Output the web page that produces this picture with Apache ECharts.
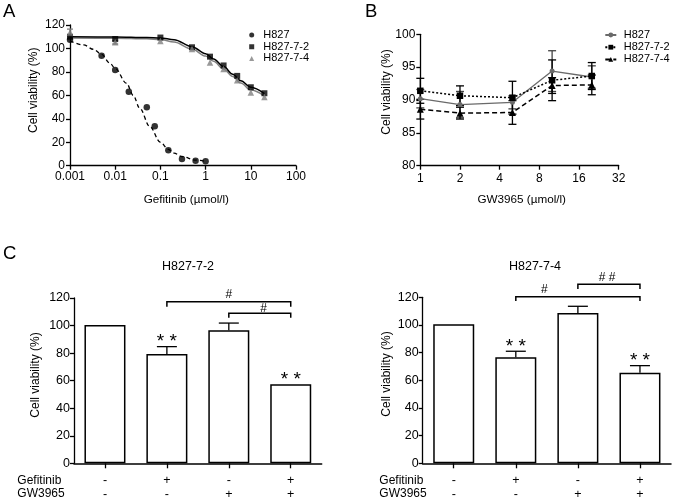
<!DOCTYPE html>
<html><head><meta charset="utf-8">
<script src="https://cdn.jsdelivr.net/npm/echarts@6/dist/echarts.min.js"></script>
<style>html,body{margin:0;padding:0;background:#fff}#c{width:677px;height:504px}</style>
</head><body><div id="c"></div>
<script>
const FONT = '"Liberation Sans", Arial, sans-serif';

// ---------- Panel A data ----------
const aTickLabels = ['0.001', '0.01', '0.1', '1', '10', '100'];
const aConcH827 = [0.001, 0.005, 0.01, 0.02, 0.05, 0.075, 0.15, 0.3, 0.6, 1];
const aH827 = [107.5, 93.8, 81.6, 63.1, 49.8, 33.6, 13.2, 5.7, 4.3, 3.7];
const aConcSub = [0.001, 0.01, 0.1, 0.5, 1.25, 2.5, 5, 10, 20];
const aH827_7_2 = [110, 108, 109.3, 101, 93, 85.5, 76.6, 66.9, 61.8];
const aH827_7_4 = [113.5, 105.3, 106.3, 99.5, 88, 82.5, 72.8, 62.5, 58.5];
const aErr7_4 = [3, 1.5, 0, 0, 0, 0, 0, 0, 0];
// fitted curves
const aFitH827X = [0.001, 0.002, 0.0033, 0.005, 0.0076, 0.01, 0.0178, 0.025, 0.035, 0.058, 0.1, 0.15, 0.2, 0.3, 0.6, 1];
const aFitH827Y = [106.5, 103, 99.3, 95, 87.5, 83, 70.3, 60, 49, 33.5, 20, 14, 10.8, 7.8, 4.8, 3.6];
const aFitSubX = [0.001, 0.01, 0.05, 0.1, 0.2, 0.5, 1, 1.5, 2.5, 4, 6, 10, 20];
const aFit7_2Y = [110, 109.8, 109.3, 109, 107.5, 101.5, 95.5, 91, 84.5, 78, 72.5, 67, 61.5];
const aFit7_4Y = [109, 108.7, 108.2, 107.6, 105.5, 99.5, 93.5, 89, 82.5, 76, 70.5, 64.5, 59.5];

// ---------- Panel B data ----------
const bConc = [1, 2, 5, 10, 20];
const bH827 = [90.2, 89.3, 89.65, 94.4, 93.5];
const bErrH827 = [1.4, 2.0, 1.0, 3.1, 1.7];
const bH827_7_2 = [91.4, 90.65, 90.35, 93.0, 93.65];
const bErr7_2 = [1.9, 1.5, 2.5, 3.1, 2.05];
const bH827_7_4 = [88.6, 88.0, 88.1, 92.2, 92.3];
const bErr7_4 = [1.5, 0.9, 1.8, 1.2, 1.5];

// ---------- Panel C data ----------
const cCats = ['control', 'gefitinib', 'GW3965', 'gefitinib+GW3965'];
const cGefitinibRow = ['-', '+', '-', '+'];
const cGW3965Row = ['-', '-', '+', '+'];
const cLeftVals = [100.4, 79.3, 96.5, 57.3];
const cLeftErr = [0, 5.4, 5.3, 0];
const cRightVals = [100.5, 76.6, 108.7, 65.5];
const cRightErr = [0, 4.4, 4.8, 5.1];
const cLeftStars = [[1, 91.2], [3, 64.1]];
const cRightStars = [[1, 87.2], [3, 77.1]];
const cLeftBrackets = [[1, 3, 117.3, 3.6], [2, 3, 108.9, 3.2]];
const cRightBrackets = [[1, 3, 120.4, 3.1], [2, 3, 129.4, 3.4]];
const cLeftHash = [[1, 3, 0.5, 122.2], [2, 3, 0.56, 112.5]];
const cLeftHashText = ['#', '#'];
const cRightHash = [[1, 3, 0.23, 125.3], [2, 3, 0.47, 134.2]];
const cRightHashText = ['#', '# #'];

const zip = (xs, ys) => xs.map((x, i) => [x, ys[i]]);
const zip3 = (xs, ys, es) => xs.map((x, i) => [x, ys[i], es[i]]);

function errBars(cap, color, both) {
  return function (params, api) {
    const x = api.value(0), y = api.value(1), e = api.value(2);
    if (!e) return { type: 'group', children: [] };
    const top = api.coord([x, y + e]);
    const bot = api.coord([x, both ? y - e : y]);
    const st = { stroke: color, lineWidth: 1.3 };
    const ch = [
      { type: 'line', shape: { x1: top[0], y1: top[1], x2: bot[0], y2: bot[1] }, style: st },
      { type: 'line', shape: { x1: top[0] - cap, y1: top[1], x2: top[0] + cap, y2: top[1] }, style: st }
    ];
    if (both) ch.push({ type: 'line', shape: { x1: bot[0] - cap, y1: bot[1], x2: bot[0] + cap, y2: bot[1] }, style: st });
    return { type: 'group', children: ch };
  };
}
function bracketRender(params, api) {
  const a = api.value(0), b = api.value(1), y = api.value(2), d = api.value(3);
  const p1 = api.coord([a, y - d]), p2 = api.coord([a, y]), p3 = api.coord([b, y]), p4 = api.coord([b, y - d]);
  return { type: 'polyline', shape: { points: [p1, p2, p3, p4] }, style: { stroke: '#000', lineWidth: 1.5, fill: null } };
}
function hashRender(texts) {
  return function (params, api) {
    const a = api.value(0), b = api.value(1), f = api.value(2), y = api.value(3);
    const pa = api.coord([a, y]), pb = api.coord([b, y]);
    return { type: 'text', x: pa[0] + f * (pb[0] - pa[0]), y: pa[1],
      style: { text: texts[params.dataIndex], fill: '#000', fontSize: 12, fontFamily: FONT, align: 'center', verticalAlign: 'middle' } };
  };
}
function starRender(params, api) {
  const p = api.coord([api.value(0), api.value(1)]);
  return { type: 'text', x: p[0], y: p[1] + 4.5,
    style: { text: '* *', fill: '#000', fontSize: 19, fontFamily: FONT, align: 'center', verticalAlign: 'middle' } };
}

const line = { color: '#000', width: 1.3 };
function valAxis(grid, min, max, interval, margin, fs) {
  return { type: 'value', gridIndex: grid, min: min, max: max, interval: interval,
    axisLine: { show: true, onZero: false, lineStyle: line },
    axisTick: { show: true, inside: false, length: 4, lineStyle: line },
    axisLabel: { color: '#000', fontFamily: FONT, fontSize: fs, margin: margin },
    splitLine: { show: false } };
}
function catAxis(grid) {
  return { type: 'category', gridIndex: grid, data: cCats, boundaryGap: true,
    axisLine: { show: true, onZero: false, lineStyle: { color: '#000', width: 1.5 } },
    axisTick: { show: true, alignWithLabel: true, length: 5, lineStyle: { color: '#000', width: 1.3 } },
    axisLabel: { color: '#000', fontFamily: FONT, fontSize: 12.5, lineHeight: 13.5, margin: 10.5,
      formatter: (v, i) => cGefitinibRow[i] + '\n' + cGW3965Row[i] },
    splitLine: { show: false } };
}

const option = {
  animation: false,
  backgroundColor: '#fff',
  grid: [
    { left: 70, top: 25, width: 226, height: 140.7, outerBoundsMode: 'none' },
    { left: 420.3, top: 34.3, width: 198.4, height: 131.4, outerBoundsMode: 'none' },
    { left: 74, top: 298, width: 247.7, height: 165.3, outerBoundsMode: 'none' },
    { left: 422.7, top: 297.3, width: 248.3, height: 166, outerBoundsMode: 'none' }
  ],
  xAxis: [
    { type: 'log', logBase: 10, gridIndex: 0, min: 0.001, max: 100,
      axisLine: { show: true, onZero: false, lineStyle: line },
      axisTick: { show: true, length: 4, lineStyle: line },
      minorTick: { show: false },
      axisLabel: { color: '#000', fontFamily: FONT, fontSize: 12, margin: 5,
        formatter: v => aTickLabels[Math.round(Math.log10(v)) + 3] },
      splitLine: { show: false } },
    { type: 'log', logBase: 2, gridIndex: 1, min: 1, max: 32,
      axisLine: { show: true, onZero: false, lineStyle: line },
      axisTick: { show: true, length: 4, lineStyle: line },
      axisLabel: { color: '#000', fontFamily: FONT, fontSize: 12, margin: 7,
        formatter: v => String(Math.round(v)) },
      splitLine: { show: false } },
    catAxis(2),
    catAxis(3)
  ],
  yAxis: [
    valAxis(0, 0, 120, 20, 5, 12),
    valAxis(1, 80, 100, 5, 5, 12),
    valAxis(2, 0, 120, 20, 4, 12.5),
    valAxis(3, 0, 120, 20, 4, 12.5)
  ],
  legend: [
    { data: ['H827', 'H827-7-2', 'H827-7-4'], orient: 'vertical', left: 249.2, top: 29.2,
      itemWidth: 5, itemHeight: 5, itemGap: 0, padding: 0, selectedMode: false,
      textStyle: { fontSize: 11, fontFamily: FONT, color: '#000', lineHeight: 11.7, padding: [0, 0, 0, 4] } },
    { data: ['B:H827', 'B:H827-7-2', 'B:H827-7-4'], orient: 'vertical', left: 604.3, top: 28.9,
      itemWidth: 11, itemHeight: 6, itemGap: 0, padding: 0, selectedMode: false,
      formatter: n => n.replace('B:', ''),
      textStyle: { fontSize: 11, fontFamily: FONT, color: '#000', lineHeight: 12.2, padding: [0, 0, 0, 2.4] } }
  ],
  series: [
    // Panel A fitted curves
    { name: 'fitA_H827', type: 'line', xAxisIndex: 0, yAxisIndex: 0, data: zip(aFitH827X, aFitH827Y),
      showSymbol: false, smooth: 0.35, smoothMonotone: 'x', z: 2,
      lineStyle: { color: '#000', width: 1.3, type: [4, 3] } },
    { name: 'fitA_7_4', type: 'line', xAxisIndex: 0, yAxisIndex: 0, data: zip(aFitSubX, aFit7_4Y),
      showSymbol: false, smooth: 0.35, smoothMonotone: 'x', z: 2,
      lineStyle: { color: '#808080', width: 1.5 } },
    { name: 'fitA_7_2', type: 'line', xAxisIndex: 0, yAxisIndex: 0, data: zip(aFitSubX, aFit7_2Y),
      showSymbol: false, smooth: 0.35, smoothMonotone: 'x', z: 2,
      lineStyle: { color: '#000', width: 1.5 } },
    { name: 'errA_7_4', type: 'custom', xAxisIndex: 0, yAxisIndex: 0, data: zip3(aConcSub, aH827_7_4, aErr7_4),
      renderItem: errBars(3, '#808080', true), encode: { x: 0, y: 1 }, z: 3 },
    { name: 'H827', type: 'scatter', xAxisIndex: 0, yAxisIndex: 0, data: zip(aConcH827, aH827),
      symbol: 'circle', symbolSize: 6.5, itemStyle: { color: '#000' }, z: 4 },
    { name: 'H827-7-2', type: 'scatter', xAxisIndex: 0, yAxisIndex: 0, data: zip(aConcSub, aH827_7_2),
      symbol: 'rect', symbolSize: 6, itemStyle: { color: '#000' }, z: 4 },
    { name: 'H827-7-4', type: 'scatter', xAxisIndex: 0, yAxisIndex: 0, data: zip(aConcSub, aH827_7_4),
      symbol: 'triangle', symbolSize: 6.5, itemStyle: { color: '#808080' }, z: 4 },

    // Panel B
    { name: 'B:H827', type: 'line', xAxisIndex: 1, yAxisIndex: 1, data: zip(bConc, bH827),
      symbol: 'circle', symbolSize: 5, itemStyle: { color: '#6a6a6a' },
      lineStyle: { color: '#6a6a6a', width: 1.3 }, z: 3 },
    { name: 'B:H827-7-2', type: 'line', xAxisIndex: 1, yAxisIndex: 1, data: zip(bConc, bH827_7_2),
      symbol: 'rect', symbolSize: 6.5, itemStyle: { color: '#000' },
      lineStyle: { color: '#000', width: 1.5, type: [2, 2] }, z: 3 },
    { name: 'B:H827-7-4', type: 'line', xAxisIndex: 1, yAxisIndex: 1, data: zip(bConc, bH827_7_4),
      symbol: 'triangle', symbolSize: 7, itemStyle: { color: '#000' },
      lineStyle: { color: '#000', width: 1.5, type: [5, 3] }, z: 3 },
    { name: 'errB_H827', type: 'custom', xAxisIndex: 1, yAxisIndex: 1, data: zip3(bConc, bH827, bErrH827),
      renderItem: errBars(4, '#444', true), encode: { x: 0, y: 1 }, z: 2 },
    { name: 'errB_7_2', type: 'custom', xAxisIndex: 1, yAxisIndex: 1, data: zip3(bConc, bH827_7_2, bErr7_2),
      renderItem: errBars(4, '#000', true), encode: { x: 0, y: 1 }, z: 2 },
    { name: 'errB_7_4', type: 'custom', xAxisIndex: 1, yAxisIndex: 1, data: zip3(bConc, bH827_7_4, bErr7_4),
      renderItem: errBars(4, '#000', true), encode: { x: 0, y: 1 }, z: 2 },

    // Panel C left
    { name: 'cLeft', type: 'bar', xAxisIndex: 2, yAxisIndex: 2, data: cLeftVals, barWidth: 41,
      itemStyle: { color: '#fff', borderColor: '#000', borderWidth: 1.5 }, z: 2 },
    { name: 'cLeftErr', type: 'custom', xAxisIndex: 2, yAxisIndex: 2,
      data: cLeftVals.map((v, i) => [i, v, cLeftErr[i]]), renderItem: errBars(10, '#000', false),
      encode: { x: 0, y: 1 }, z: 3 },
    { name: 'cLeftBr', type: 'custom', xAxisIndex: 2, yAxisIndex: 2, data: cLeftBrackets,
      renderItem: bracketRender, encode: { x: 0, y: 2 }, z: 3 },
    { name: 'cLeftHash', type: 'custom', xAxisIndex: 2, yAxisIndex: 2, data: cLeftHash,
      renderItem: hashRender(cLeftHashText), encode: { x: 0, y: 3 }, z: 3 },
    { name: 'cLeftStar', type: 'custom', xAxisIndex: 2, yAxisIndex: 2, data: cLeftStars,
      renderItem: starRender, encode: { x: 0, y: 1 }, z: 3 },

    // Panel C right
    { name: 'cRight', type: 'bar', xAxisIndex: 3, yAxisIndex: 3, data: cRightVals, barWidth: 41,
      itemStyle: { color: '#fff', borderColor: '#000', borderWidth: 1.5 }, z: 2 },
    { name: 'cRightErr', type: 'custom', xAxisIndex: 3, yAxisIndex: 3,
      data: cRightVals.map((v, i) => [i, v, cRightErr[i]]), renderItem: errBars(10, '#000', false),
      encode: { x: 0, y: 1 }, z: 3 },
    { name: 'cRightBr', type: 'custom', xAxisIndex: 3, yAxisIndex: 3, data: cRightBrackets,
      renderItem: bracketRender, encode: { x: 0, y: 2 }, z: 3 },
    { name: 'cRightHash', type: 'custom', xAxisIndex: 3, yAxisIndex: 3, data: cRightHash,
      renderItem: hashRender(cRightHashText), encode: { x: 0, y: 3 }, z: 3 },
    { name: 'cRightStar', type: 'custom', xAxisIndex: 3, yAxisIndex: 3, data: cRightStars,
      renderItem: starRender, encode: { x: 0, y: 1 }, z: 3 }
  ],
  graphic: [
    { type: 'text', x: 3, y: 11.7, style: { text: 'A', fontSize: 18.5, fontFamily: FONT, fill: '#000', align: 'left', verticalAlign: 'middle' } },
    { type: 'text', x: 365, y: 11.7, style: { text: 'B', fontSize: 18.5, fontFamily: FONT, fill: '#000', align: 'left', verticalAlign: 'middle' } },
    { type: 'text', x: 3, y: 253.7, style: { text: 'C', fontSize: 18.5, fontFamily: FONT, fill: '#000', align: 'left', verticalAlign: 'middle' } },
    { type: 'text', x: 34, y: 90.3, rotation: Math.PI / 2, style: { text: 'Cell viability (%)', fontSize: 12, fontFamily: FONT, fill: '#000', align: 'center', verticalAlign: 'middle' } },
    { type: 'text', x: 186.3, y: 200, style: { text: 'Gefitinib (\u00b5mol/l)', fontSize: 11.7, fontFamily: FONT, fill: '#000', align: 'center', verticalAlign: 'middle' } },
    { type: 'text', x: 386.7, y: 92, rotation: Math.PI / 2, style: { text: 'Cell viability (%)', fontSize: 12, fontFamily: FONT, fill: '#000', align: 'center', verticalAlign: 'middle' } },
    { type: 'text', x: 521.7, y: 200, style: { text: 'GW3965 (\u00b5mol/l)', fontSize: 11.7, fontFamily: FONT, fill: '#000', align: 'center', verticalAlign: 'middle' } },
    { type: 'text', x: 188, y: 267, style: { text: 'H827-7-2', fontSize: 12.5, fontFamily: FONT, fill: '#000', align: 'center', verticalAlign: 'middle' } },
    { type: 'text', x: 535, y: 267, style: { text: 'H827-7-4', fontSize: 12.5, fontFamily: FONT, fill: '#000', align: 'center', verticalAlign: 'middle' } },
    { type: 'text', x: 36, y: 375, rotation: Math.PI / 2, style: { text: 'Cell viability (%)', fontSize: 12, fontFamily: FONT, fill: '#000', align: 'center', verticalAlign: 'middle' } },
    { type: 'text', x: 386.5, y: 374, rotation: Math.PI / 2, style: { text: 'Cell viability (%)', fontSize: 12, fontFamily: FONT, fill: '#000', align: 'center', verticalAlign: 'middle' } },
    { type: 'text', x: 17.3, y: 480.7, style: { text: 'Gefitinib', fontSize: 12, fontFamily: FONT, fill: '#000', align: 'left', verticalAlign: 'middle' } },
    { type: 'text', x: 17.3, y: 494, style: { text: 'GW3965', fontSize: 12, fontFamily: FONT, fill: '#000', align: 'left', verticalAlign: 'middle' } },
    { type: 'text', x: 379.3, y: 480.7, style: { text: 'Gefitinib', fontSize: 12, fontFamily: FONT, fill: '#000', align: 'left', verticalAlign: 'middle' } },
    { type: 'text', x: 379.3, y: 494, style: { text: 'GW3965', fontSize: 12, fontFamily: FONT, fill: '#000', align: 'left', verticalAlign: 'middle' } }
  ]
};

const chart = echarts.init(document.getElementById('c'), null, { renderer: 'canvas' });
chart.setOption(option);
</script>
</body></html>
